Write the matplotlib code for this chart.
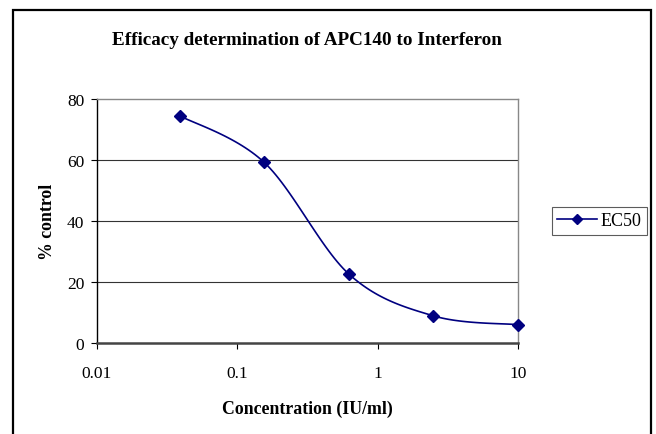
import matplotlib
matplotlib.use("Agg")
import matplotlib.pyplot as plt
import numpy as np
from matplotlib.patches import Rectangle
from matplotlib.lines import Line2D

# data
conc = [0.039, 0.156, 0.625, 2.5, 10]
pct_control = [74.5, 59.2, 22.6, 8.9, 6.0]
xticks = [0.01, 0.1, 1, 10]
xtick_labels = ["0.01", "0.1", "1", "10"]
yticks = [0, 20, 40, 60, 80]

navy = "#000080"
plt.rcParams['font.family'] = ['Liberation Serif', 'DejaVu Serif']


def excel_smooth(ax, xs, ys, n=30):
    # Excel-style bezier smoothing, done in display space
    pts = ax.transData.transform(np.column_stack([xs, ys]))
    pts = np.vstack([pts[0], pts, pts[-1]])
    out = [pts[1]]
    for i in range(1, len(pts) - 2):
        p0, p1, p2, p3 = pts[i - 1], pts[i], pts[i + 1], pts[i + 2]
        c1 = p1 + (p2 - p0) / 6.0
        c2 = p2 - (p3 - p1) / 6.0
        t = np.linspace(0, 1, n)[1:, None]
        seg = ((1 - t) ** 3) * p1 + 3 * ((1 - t) ** 2) * t * c1 + 3 * (1 - t) * t ** 2 * c2 + t ** 3 * p2
        out.extend(seg)
    out = np.array(out)
    return ax.transData.inverted().transform(out)


fig = plt.figure(figsize=(6.56, 4.35), dpi=100)
fig.patches.append(Rectangle((13 / 656, -0.05), (651 - 13) / 656, 1.05 - 11 / 435,
                             transform=fig.transFigure, fill=False, edgecolor="black",
                             linewidth=1.6))

ax = fig.add_axes([0.1474, 0.2092, 0.6422, 0.5609])
ax.set_xscale("log")
ax.set_xlim(0.01, 10)
ax.set_ylim(0, 80)

for yv in yticks[1:4]:
    ax.axhline(yv, color="#333333", linewidth=0.8, zorder=1)

curve = excel_smooth(ax, conc, pct_control)
ax.plot(curve[:, 0], curve[:, 1], color=navy, linewidth=1.2, zorder=3)
ax.plot(conc, pct_control, linestyle="none", marker="D", markersize=6,
        color=navy, zorder=4, clip_on=False)

ax.set_xticks(xticks)
ax.set_xticklabels(xtick_labels)
ax.xaxis.set_minor_locator(matplotlib.ticker.NullLocator())
ax.set_yticks(yticks)
ax.tick_params(axis="both", direction="out", length=4, width=0.8, labelsize=12.5,
               colors="black")
ax.tick_params(axis="y", pad=5)
ax.tick_params(axis="x", pad=12)

ax.spines["left"].set_color("black")
ax.spines["left"].set_linewidth(1.0)
ax.spines["bottom"].set_color("#444444")
ax.spines["bottom"].set_linewidth(1.8)
ax.spines["top"].set_color("#888888")
ax.spines["top"].set_linewidth(1.0)
ax.spines["right"].set_color("#888888")
ax.spines["right"].set_linewidth(1.0)

ax.set_xlabel("Concentration (IU/ml)", fontsize=12.8, fontweight="bold", labelpad=13)
ax.set_ylabel("% control", fontsize=12.8, fontweight="bold", labelpad=8)

fig.text(0.468, 0.908, "Efficacy determination of APC140 to Interferon",
         ha="center", va="center", fontsize=13.8, fontweight="bold")

handle = Line2D([], [], color=navy, linewidth=1.2, marker="D", markersize=5.5)
leg = fig.legend([handle], ["EC50"], loc="center left",
                 bbox_to_anchor=(552 / 656, 1 - 222 / 435), frameon=True,
                 fancybox=False, fontsize=13, handlelength=2.2, borderpad=0.3,
                 handletextpad=0.2, borderaxespad=0)
leg.get_frame().set_edgecolor("#333333")
leg.get_frame().set_linewidth(0.8)

fig.savefig("out.png", dpi=100)
